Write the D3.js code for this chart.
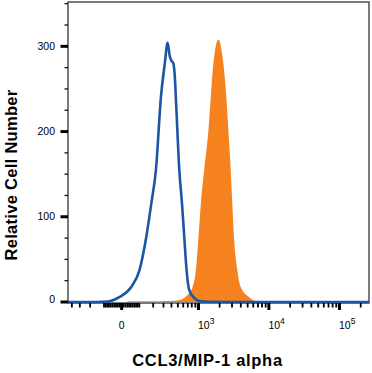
<!DOCTYPE html>
<html>
<head>
<meta charset="utf-8">
<script src="https://cdn.jsdelivr.net/npm/d3@7/dist/d3.min.js"></script>
<style>
html,body{margin:0;padding:0;background:#fff;}
svg{display:block;}
text{font-family:"Liberation Sans",Arial,Helvetica,sans-serif;fill:#000;}
</style>
</head>
<body>
<svg id="chart" width="372" height="373"></svg>
<script>
// ---- data (fluorescence intensity, relative cell count) ----
const isotypeX = [-458, -300, -150, -77, -11, 52, 101, 146, 185, 224, 273, 315, 349, 378, 400, 423, 447, 476, 525, 575, 622, 672, 735, 868, 1023, 1420, 5000, 50000, 262144];
const isotypeY = [0, 0, 0, 0.5, 5.9, 17.6, 37.5, 76, 116, 155, 241, 280, 304, 288, 283, 281, 268, 225, 155, 116, 76, 37.5, 14, 4.7, 1, 0.3, 0, 0, 0];
const stainedX = [20, 43, 258, 447, 525, 694, 820, 917, 999, 1081, 1205, 1388, 1500, 1632, 1920, 2260, 2491, 2660, 2875, 3029, 3201, 3564, 3980, 5209, 6749, 8470];
const stainedY = [0, 0.8, 1, 1.5, 2.3, 8.2, 17.6, 37.5, 76, 116, 155, 202, 241, 280, 308, 280, 241, 202, 155, 116, 76, 37.5, 17.6, 5.9, 0.5, 0];
const yMajorTicks = [0, 100, 200, 300];
const xMajorTicks = [0, 1000, 10000, 100000];
const xMajorLabels = ["0", "3", "4", "5"];
const xTitle = "CCL3/MIP-1 alpha";
const yTitle = "Relative Cell Number";

// ---- layout ----
const L = 68, R = 369, T = 2, B = 302;
const xMin = -458, xMax = 262144, yMax = 352;
const cW = 164; // biexponential linear width
const tr = v => Math.asinh(v / cW) / Math.LN10;
const lin = d3.scaleLinear().domain([tr(xMin), tr(xMax)]).range([L, R]);
const x = v => lin(tr(v));
const y = d3.scaleLinear().domain([0, yMax]).range([B, T]);

const svg = d3.select("#chart");

const stained = stainedX.map((v, i) => ({v, c: stainedY[i]}));
const isotype = isotypeX.map((v, i) => ({v, c: isotypeY[i]}));

// orange filled histogram
svg.append("path")
  .datum(stained)
  .attr("d", d3.area().x(d => x(d.v)).y0(y(0)).y1(d => y(d.c)).curve(d3.curveMonotoneX))
  .attr("fill", "#f5821f");

// frame
svg.append("rect").attr("x", L).attr("y", T).attr("width", R - L).attr("height", B + 1 - T)
  .attr("fill", "none").attr("stroke", "#333").attr("stroke-width", 1.3);

// blue outline histogram
svg.append("path")
  .datum(isotype)
  .attr("d", d3.line().x(d => x(d.v)).y(d => y(d.c)).curve(d3.curveMonotoneX))
  .attr("fill", "none").attr("stroke", "#1d55a5").attr("stroke-width", 2.6)
  .attr("stroke-linejoin", "round");

// y ticks
const yMinor = d3.range(25, 351, 25).filter(v => v % 100 !== 0);
svg.selectAll(".ymin").data(yMinor).enter().append("line")
  .attr("x1", L - 3.5).attr("x2", L).attr("y1", d => y(d)).attr("y2", d => y(d))
  .attr("stroke", "#111").attr("stroke-width", 1.3);
svg.selectAll(".ymaj").data(yMajorTicks).enter().append("line")
  .attr("x1", L - 7.5).attr("x2", L).attr("y1", d => y(d)).attr("y2", d => y(d))
  .attr("stroke", "#000").attr("stroke-width", 3);
svg.selectAll(".ylab").data(yMajorTicks).enter().append("text")
  .attr("x", 55).attr("y", d => y(d) - (d === 0 ? 3 : 0)).attr("dy", "0.35em")
  .attr("text-anchor", "end").attr("font-size", 10.5).text(d => d);

// x minor ticks (biexponential decades)
let xMinor = [];
[-1, 1].forEach(s => {
  [10, 100, 1000, 10000, 100000].forEach(dec => {
    for (let k = 1; k <= 9; k++) {
      const v = s * k * dec;
      if (v > xMin && v < xMax && xMajorTicks.indexOf(v) < 0) xMinor.push(v);
    }
  });
});
svg.selectAll(".xmin").data(xMinor).enter().append("line")
  .attr("x1", d => x(d)).attr("x2", d => x(d)).attr("y1", B + 1).attr("y2", B + 5.5)
  .attr("stroke", "#000").attr("stroke-width", 1.8);
svg.selectAll(".xmaj").data(xMajorTicks).enter().append("line")
  .attr("x1", d => x(d)).attr("x2", d => x(d)).attr("y1", B + 1).attr("y2", B + 8)
  .attr("stroke", "#000").attr("stroke-width", 3);

// x labels
xMajorTicks.forEach((v, i) => {
  if (v === 0) {
    svg.append("text").attr("x", x(v)).attr("y", 329).attr("text-anchor", "middle")
      .attr("font-size", 10.5).text(xMajorLabels[i]);
  } else {
    const t = svg.append("text").attr("x", x(v) - 0.5).attr("y", 329).attr("font-size", 10.5);
    t.append("tspan").text("10");
    t.append("tspan").attr("dy", -5).attr("font-size", 8.5).text(xMajorLabels[i]);
  }
});

// titles
svg.append("text").attr("x", 207.5).attr("y", 366).attr("text-anchor", "middle")
  .attr("font-size", 16.5).attr("font-weight", "bold").attr("letter-spacing", 0.7).text(xTitle);
svg.append("text").attr("transform", "translate(17,175) rotate(-90)").attr("text-anchor", "middle")
  .attr("font-size", 16.5).attr("font-weight", "bold").attr("letter-spacing", 0.3).text(yTitle);
</script>
</body>
</html>
